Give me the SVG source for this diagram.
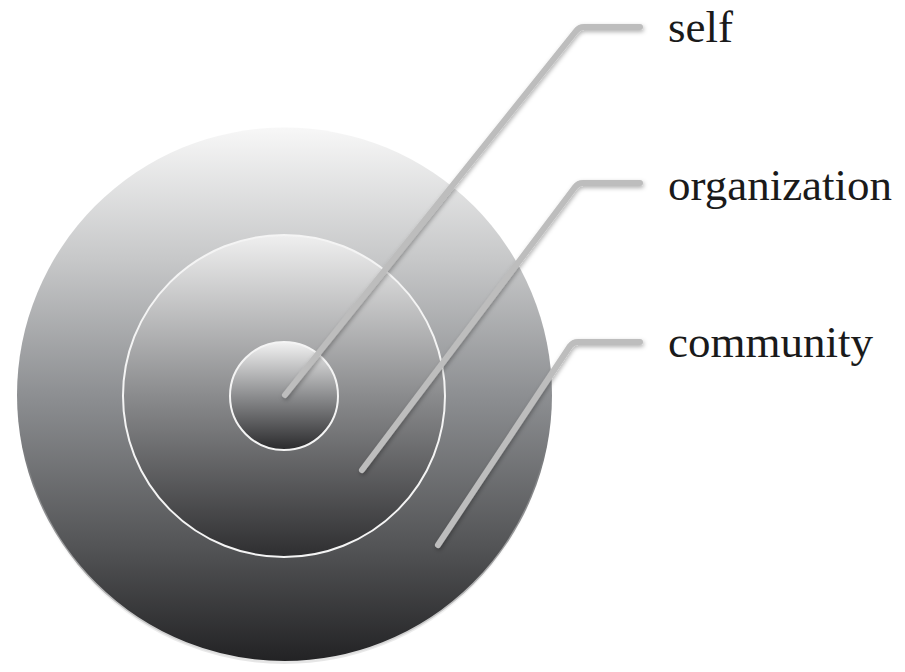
<svg xmlns="http://www.w3.org/2000/svg" width="905" height="672" viewBox="0 0 905 672">
  <defs>
    <linearGradient id="gBig" gradientUnits="userSpaceOnUse" x1="0" y1="128" x2="0" y2="662">
      <stop offset="0" stop-color="#f7f7f7"/>
      <stop offset="0.25" stop-color="#c6c7c8"/>
      <stop offset="0.5" stop-color="#8d8f92"/>
      <stop offset="0.78" stop-color="#545557"/>
      <stop offset="1" stop-color="#222224"/>
    </linearGradient>
    <linearGradient id="gMid" x1="0" y1="0" x2="0" y2="1">
      <stop offset="0" stop-color="#efefef"/>
      <stop offset="0.5" stop-color="#8a8b8d"/>
      <stop offset="1" stop-color="#2e2e30"/>
    </linearGradient>
    <linearGradient id="gSmall" x1="0" y1="0" x2="0" y2="1">
      <stop offset="0" stop-color="#f2f2f2"/>
      <stop offset="0.5" stop-color="#8c8d8f"/>
      <stop offset="1" stop-color="#2a2a2c"/>
    </linearGradient>
    <linearGradient id="gRim" x1="0" y1="0" x2="0" y2="1">
      <stop offset="0" stop-color="#ffffff" stop-opacity="0"/>
      <stop offset="0.6" stop-color="#ffffff" stop-opacity="0"/>
      <stop offset="1" stop-color="#e6e6e6" stop-opacity="1"/>
    </linearGradient>
    <filter id="shadow" x="-20%" y="-20%" width="140%" height="140%">
      <feDropShadow dx="1" dy="2" stdDeviation="2" flood-color="#000" flood-opacity="0.3"/>
    </filter>
  </defs>
  <style>
    .ring { stroke: #f4f4f4; stroke-width: 2; }
    .conn { fill: none; stroke: #bdbdbd; stroke-width: 6; stroke-linecap: round; stroke-linejoin: round; filter: url(#shadow); }
    .lbl { font-family: "Liberation Serif", "Times New Roman", serif; font-size: 45px; fill: #1a1a1a; }
  </style>

  <g id="community-circle">
    <circle cx="284.5" cy="395" r="267.5" fill="url(#gBig)"/>
    <circle cx="284.5" cy="395" r="267.5" fill="none" stroke="url(#gRim)" stroke-width="3"/>
  </g>
  <g id="organization-circle">
    <circle class="ring" cx="284" cy="396" r="161" fill="url(#gMid)"/>
  </g>
  <g id="self-circle">
    <circle class="ring" cx="284" cy="396" r="54" fill="url(#gSmall)"/>
  </g>

  <g id="connectors">
    <path class="conn" d="M285,395 L576,31 Q579,27 584,27 L640,27"/>
    <path class="conn" d="M362,470 L575,187 Q578,183 583,183 L640,183"/>
    <path class="conn" d="M438,545 L570,346 Q573,342 578,342 L640,342"/>
  </g>

  <g id="label-self">
    <text class="lbl" x="668" y="42">self</text>
  </g>
  <g id="label-organization">
    <text class="lbl" x="668" y="200">organization</text>
  </g>
  <g id="label-community">
    <text class="lbl" x="668" y="357">community</text>
  </g>
</svg>
